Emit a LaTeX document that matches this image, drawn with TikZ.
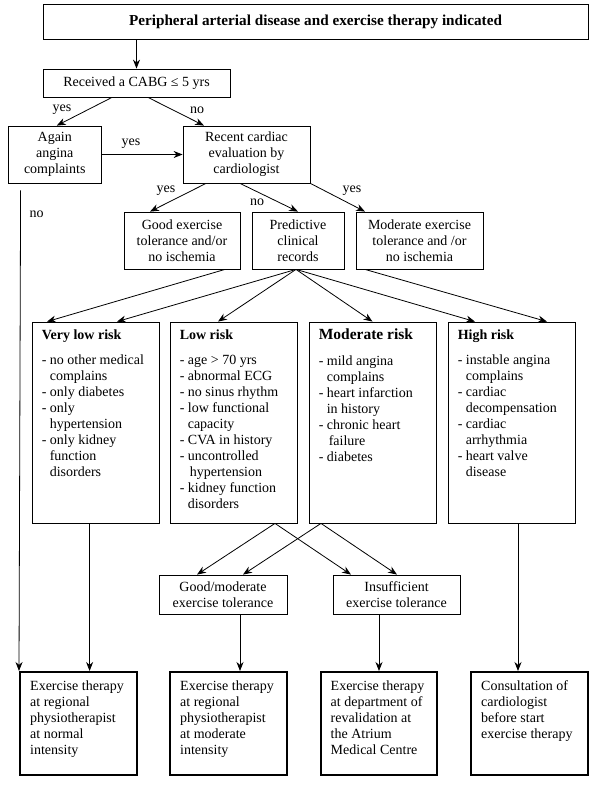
\documentclass[tikz,border=0pt]{standalone}
\usepackage{fontspec}
\setmainfont{Liberation Serif}
\usetikzlibrary{arrows.meta,calc}
\newcommand{\fs}{\fontsize{14pt}{16pt}\selectfont}
\newcommand{\fsm}{\fontsize{15.5pt}{16pt}\selectfont}
\newcommand{\fst}{\fontsize{15.2pt}{17pt}\selectfont}
\newcommand{\ind}{\hspace*{8pt}}
\newcommand{\indd}{\hspace*{10pt}}
\newcommand{\st}{\rule{0pt}{11pt}}
\begin{document}
\begin{tikzpicture}[x=1pt,y=-1pt,
  box/.style={draw, line width=0.8pt, inner sep=0pt, align=center, font=\fs},
  fbox/.style={draw, line width=2pt, inner sep=0pt},
  txt/.style={anchor=north west, inner sep=0pt, align=left, font=\fs},
  arr/.style={-{Stealth[length=9pt,width=7pt]}, line width=0.8pt},
  lbl/.style={inner sep=0pt, font=\fs}]
\useasboundingbox[fill=white] (0,0) rectangle (600,785);

% top
\node[box, minimum width=545pt, minimum height=35pt, font=\fst\bfseries] (top) at (315.5,21.5) {Peripheral arterial disease and exercise therapy indicated};
\node[box, minimum width=187pt, minimum height=28pt] (cabg) at (136.5,83) {Received a CABG ≤ 5 yrs};
\draw[arr] (cabg.north |- top.south) -- (cabg.north);

% second row
\node[box, minimum width=92.5pt, minimum height=57pt] (again) at (54.75,154.5) {Again\\angina\\complaints};
\node[box, minimum width=127pt, minimum height=57pt] (recent) at (246.5,154.5) {Recent cardiac\\evaluation by\\cardiologist};
\draw[arr] ([xshift=-24.5pt]cabg.south) -- ([xshift=2pt]again.north);
\draw[arr] ([xshift=11.5pt]cabg.south) -- ([xshift=-42.5pt]recent.north);
\node[lbl] (lyes1) at (62,110) {yes};
\node[lbl] (lno1) at (197,110) {no};
\draw[arr] (again.east) -- (recent.west);
\node[lbl] (lyes2) at (131,144) {yes};

% third row
\node[box, minimum width=116pt, minimum height=57pt] (good) at (182,240.5) {Good exercise\\tolerance and/or\\no ischemia};
\node[box, minimum width=92pt, minimum height=57pt] (pred) at (298,240.5) {Predictive\\clinical\\records};
\node[box, minimum width=127pt, minimum height=57pt] (modx) at (419.5,240.5) {Moderate exercise\\tolerance and /or\\no ischemia};
\draw[arr] ([xshift=-40.5pt]recent.south) -- ([xshift=-32pt]good.north);
\draw[arr] ([xshift=-6.5pt]recent.south) -- (pred.north);
\draw[arr] (recent.south east) -- ([xshift=-54.5pt]modx.north);
\node[lbl] (lyes3) at (166,191) {yes};
\node[lbl] (lno2) at (257,202) {no};
\node[lbl] (lyes4) at (352,191) {yes};
\node[lbl] (lno3) at (36.5,214) {no};

% risk boxes
\node[box, minimum width=127pt, minimum height=201pt] (vl) at (95.5,422.5) {};
\node[box, minimum width=127pt, minimum height=201pt] (lo) at (233.5,422.5) {};
\node[box, minimum width=127pt, minimum height=201pt] (mo) at (372.5,422.5) {};
\node[box, minimum width=127pt, minimum height=201pt] (hi) at (511.5,422.5) {};

\node[txt] (vlt) at ($(vl.north west)+(10,7)$) {\st\textbf{Very low risk}\\[9pt]- no other medical\\\ind complains\\- only diabetes\\- only\\\ind hypertension\\- only kidney\\\ind function\\\ind disorders};
\node[txt] (lot) at ($(lo.north west)+(10,7)$) {\st\textbf{Low risk}\\[9pt]- age > 70 yrs\\- abnormal ECG\\- no sinus rhythm\\- low functional\\\ind capacity\\- CVA in history\\- uncontrolled\\\indd hypertension\\- kidney function\\\ind disorders};
\node[txt] (mot) at ($(mo.north west)+(10,7)$) {\st{\fsm\textbf{Moderate risk}}\\[10pt]- mild angina\\\ind complains\\- heart infarction\\\ind in history\\- chronic heart\\\indd failure\\- diabetes};
\node[txt] (hit) at ($(hi.north west)+(10,7)$) {\st\textbf{High risk}\\[9pt]- instable angina\\\ind complains\\- cardiac\\\ind decompensation\\- cardiac\\\ind arrhythmia\\- heart valve\\\ind disease};

\draw[arr] ([xshift=43pt]good.south) -- ([xshift=-48.5pt]vl.north);
\draw[arr] ([xshift=-2pt]pred.south) -- ([xshift=21.5pt]vl.north);
\draw[arr] ([xshift=-2pt]pred.south) -- ([xshift=-15.5pt]lo.north);
\draw[arr] ([xshift=-2pt]pred.south) -- (mo.north);
\draw[arr] ([xshift=-2pt]pred.south) -- ([xshift=-36.5pt]hi.north);
\draw[arr] ([xshift=-54.5pt]modx.south) -- ([xshift=35.5pt]hi.north);

% tolerance row
\node[box, minimum width=128pt, minimum height=39pt] (gm) at (223,594.5) {Good/moderate\\exercise tolerance};
\node[box, minimum width=127pt, minimum height=39pt] (ins) at (396.5,594.5) {Insufficient\\exercise tolerance};
\draw[arr] ([xshift=41.5pt]lo.south) -- ([xshift=-26pt]gm.north);
\draw[arr] ([xshift=41.5pt]lo.south) -- ([xshift=-45.5pt]ins.north);
\draw[arr] ([xshift=-51.5pt]mo.south) -- ([xshift=20pt]gm.north);
\draw[arr] ([xshift=-51.5pt]mo.south) -- ([xshift=0.5pt]ins.north);

% bottom boxes
\node[fbox, minimum width=116.5pt, minimum height=103pt] (b1) at (78.25,723.5) {};
\node[fbox, minimum width=116.5pt, minimum height=103pt] (b2) at (228.25,723.5) {};
\node[fbox, minimum width=116pt, minimum height=103pt] (b3) at (379,723.5) {};
\node[fbox, minimum width=117pt, minimum height=103pt] (b4) at (529.5,723.5) {};
\node[txt] (b1t) at ($(b1.north west)+(11,8)$) {\st Exercise therapy\\at regional\\physiotherapist\\at normal\\intensity};
\node[txt] (b2t) at ($(b2.north west)+(11,8)$) {\st Exercise therapy\\at regional\\physiotherapist\\at moderate\\intensity};
\node[txt] (b3t) at ($(b3.north west)+(10.5,8)$) {\st Exercise therapy\\at department of\\revalidation at\\the Atrium\\Medical Centre};
\node[txt] (b4t) at ($(b4.north west)+(11,8)$) {\st Consultation of\\cardiologist\\before start\\exercise therapy};

\draw[arr] ($(again.south west)+(12.5,7)$) -- (b1.north west);
\draw[arr] ([xshift=-5.9pt]vl.south) -- ([xshift=-5.9pt]vl.south |- b1.north);
\draw[arr] ([xshift=17pt]gm.south) -- ([xshift=17pt]gm.south |- b2.north);
\draw[arr] (b3.north |- ins.south) -- (b3.north);
\draw[arr] ([xshift=6.5pt]hi.south) -- ([xshift=6.5pt]hi.south |- b4.north);
\end{tikzpicture}
\end{document}
